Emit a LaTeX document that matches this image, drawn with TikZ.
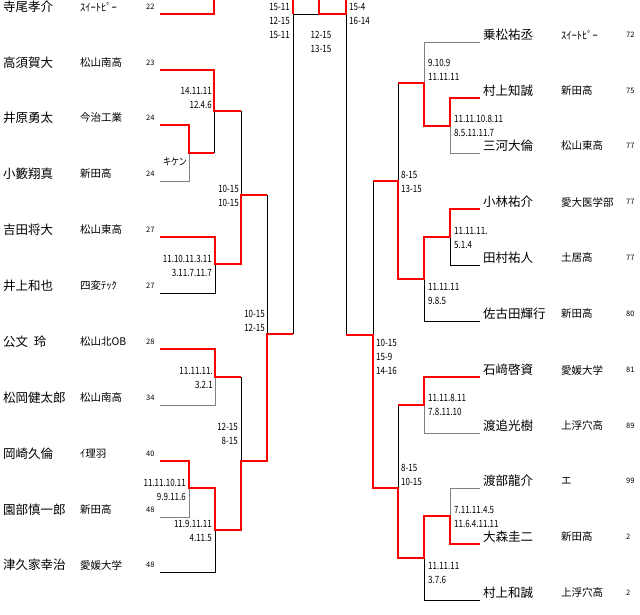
\documentclass[tikz,border=0pt]{standalone}
\usepackage{fontspec}
\setmainfont{Noto Sans CJK JP}
\newfontfamily\scorefont[FakeStretch=0.8]{Noto Sans CJK JP}
\begin{document}
\begin{tikzpicture}[x=1pt,y=-1pt,
  win/.style={draw=red,line width=2pt,line join=miter},
  lose/.style={draw=black,line width=0.9pt},
  pname/.style={anchor=west,inner sep=0pt,font=\fontsize{12.5}{13}\selectfont},
  paff/.style={anchor=west,inner sep=0pt,font=\fontsize{10.5}{11}\selectfont},
  pnum/.style={anchor=west,inner sep=0pt,font=\fontsize{7.5}{8}\selectfont},
  scl/.style={anchor=east,inner sep=0pt,align=right,font=\scorefont\fontsize{10}{14}\selectfont},
  scr/.style={anchor=west,inner sep=0pt,align=left,font=\scorefont\fontsize{10}{14}\selectfont},
  scc/.style={anchor=center,inner sep=0pt,align=center,font=\scorefont\fontsize{10}{14}\selectfont}]
\useasboundingbox (0,0) rectangle (640,615);
\fill[white] (0,0) rectangle (640,615);

% ---------- left players ----------
\foreach \n/\nm/\af/\num/\y in {
  la/寺尾孝介/ｽｲｰﾄﾋﾟｰ/22/14, lb/高須賀大/松山南高/23/70, lc/井原勇太/今治工業/24/125,
  ld/小籔翔真/新田高/24/181, le/吉田将大/松山東高/27/237, lf/井上和也/四変ﾃｯｸ/27/293,
  lg/公文\ \ 玲/松山北OB/28/349, lh/松岡健太郎/松山南高/34/405, li/岡崎久倫/ｲ理羽/40/461,
  lj/園部慎一郎/新田高/48/517, lk/津久家幸治/愛媛大学/48/572}{
  \node[pname] (\n-name) at (3,\y-7) {\nm};
  \node[paff] (\n-aff) at (80,\y-7) {\af};
  \node[pnum] (\n-num) at (146,\y-7) {\num};
  \coordinate (\n) at (160,\y);
}
% ---------- right players ----------
\foreach \n/\nm/\af/\num/\y in {
  ra/乗松祐丞/ｽｲｰﾄﾋﾟｰ/72/42, rb/村上知誠/新田高/75/98, rc/三河大倫/松山東高/77/153,
  rd/小林祐介/愛大医学部/77/209, re/田村祐人/土居高/77/265, rf/佐古田輝行/新田高/80/321,
  rg/石﨑啓資/愛媛大学/81/377, rh/渡追光樹/上浮穴高/89/433, ri/渡部龍介/エ/99/488,
  rj/大森圭二/新田高/2/544, rk/村上和誠/上浮穴高/2/600}{
  \node[pname] (\n-name) at (483,\y-7) {\nm};
  \node[paff] (\n-aff) at (561,\y-7) {\af};
  \node[pnum] (\n-num) at (626,\y-7) {\num};
  \coordinate (\n) at (480,\y);
}

% ---------- left bracket: losing lines ----------
\draw[lose] (214,111) -- (214,153);
\draw[lose,draw=gray] (ld) -- (189,181) -- (189,153);
\draw[lose] (241,111) -- (241,195);
\draw[lose] (lf) -- (215,293) -- (215,264);
\draw[lose] (267,195) -- (267,334);
\draw[lose,draw=gray] (lh) -- (215,405) -- (215,377);
\draw[lose] (241,377) -- (241,461);
\draw[lose,draw=gray] (lj) -- (189,517) -- (189,488);
\draw[lose] (lk) -- (215,572) -- (215,530);
\draw[lose] (293,334) -- (293,14) -- (319,14);
\draw[lose] (346,14) -- (346,335);

% ---------- right bracket: losing lines ----------
\draw[lose,draw=gray] (ra) -- (424,42) -- (424,83);
\draw[lose,draw=gray] (rc) -- (450,153) -- (450,126);
\draw[lose] (398,83) -- (398,181);
\draw[lose] (re) -- (450,265) -- (450,237);
\draw[lose] (rf) -- (424,321) -- (424,279);
\draw[lose] (373,181) -- (373,335);
\draw[lose,draw=gray] (rh) -- (424,433) -- (424,405);
\draw[lose] (398,405) -- (398,488);
\draw[lose,draw=gray] (ri) -- (450,488) -- (450,516);
\draw[lose] (rk) -- (424,600) -- (424,558);

% ---------- left bracket: winning lines ----------
\draw[win] (214,0) -- (214,14) -- (la);
\draw[win] (lb) -- (214,70) -- (214,111) -- (241,111);
\draw[win] (lc) -- (189,125) -- (189,153) -- (214,153);
\draw[win] (le) -- (215,237) -- (215,264) -- (241,264) -- (241,195) -- (267,195);
\draw[win] (lg) -- (215,349) -- (215,377) -- (241,377);
\draw[win] (li) -- (189,461) -- (189,488) -- (215,488) -- (215,530) -- (241,530)
   -- (241,461) -- (267,461) -- (267,334) -- (293,334);
\draw[win] (293,0) -- (293,14);
\draw[win] (319,0) -- (319,14) -- (346,14) -- (346,0);

% ---------- right bracket: winning lines ----------
\draw[win] (rb) -- (450,98) -- (450,126) -- (424,126) -- (424,83) -- (398,83);
\draw[win] (rd) -- (450,209) -- (450,237) -- (424,237) -- (424,279) -- (398,279)
   -- (398,181) -- (373,181);
\draw[win] (rg) -- (424,377) -- (424,405) -- (398,405);
\draw[win] (rj) -- (450,544) -- (450,516) -- (424,516) -- (424,558) -- (398,558)
   -- (398,488) -- (373,488) -- (373,335) -- (346,335);

% ---------- scores, left ----------
\node[scl] (s1) at (187,162) {キケン};
\node[scl] (s2) at (212,98) {14.11.11\\12.4.6};
\node[scl] (s3) at (239,196) {10-15\\10-15};
\node[scl] (s4) at (212,266) {11.10.11.3.11\\3.11.7.11.7};
\node[scl] (s5) at (265,321) {10-15\\12-15};
\node[scl] (s6) at (213,377.5) {11.11.11.\\3.2.1};
\node[scl] (s7) at (238,433.5) {12-15\\8-15};
\node[scl] (s8) at (186,489.5) {11.11.10.11\\9.9.11.6};
\node[scl] (s9) at (212,531) {11.9.11.11\\4.11.5};
\node[scl] (s10) at (290,21) {15-11\\12-15\\15-11};
\node[scc] (s11) at (321,42) {12-15\\13-15};
\node[scr] (s12) at (349,14) {15-4\\16-14};
% ---------- scores, right ----------
\node[scr] (t1) at (428,70) {9.10.9\\11.11.11};
\node[scr] (t2) at (454,126) {11.11.10.8.11\\8.5.11.11.7};
\node[scr] (t3) at (401,182) {8-15\\13-15};
\node[scr] (t4) at (454,238) {11.11.11.\\5.1.4};
\node[scr] (t5) at (428,294) {11.11.11\\9.8.5};
\node[scr] (t6) at (376,357) {10-15\\15-9\\14-16};
\node[scr] (t7) at (428,405) {11.11.8.11\\7.8.11.10};
\node[scr] (t8) at (401,475) {8-15\\10-15};
\node[scr] (t9) at (454,517) {7.11.11.4.5\\11.6.4.11.11};
\node[scr] (t10) at (428,573) {11.11.11\\3.7.6};
\end{tikzpicture}
\end{document}
